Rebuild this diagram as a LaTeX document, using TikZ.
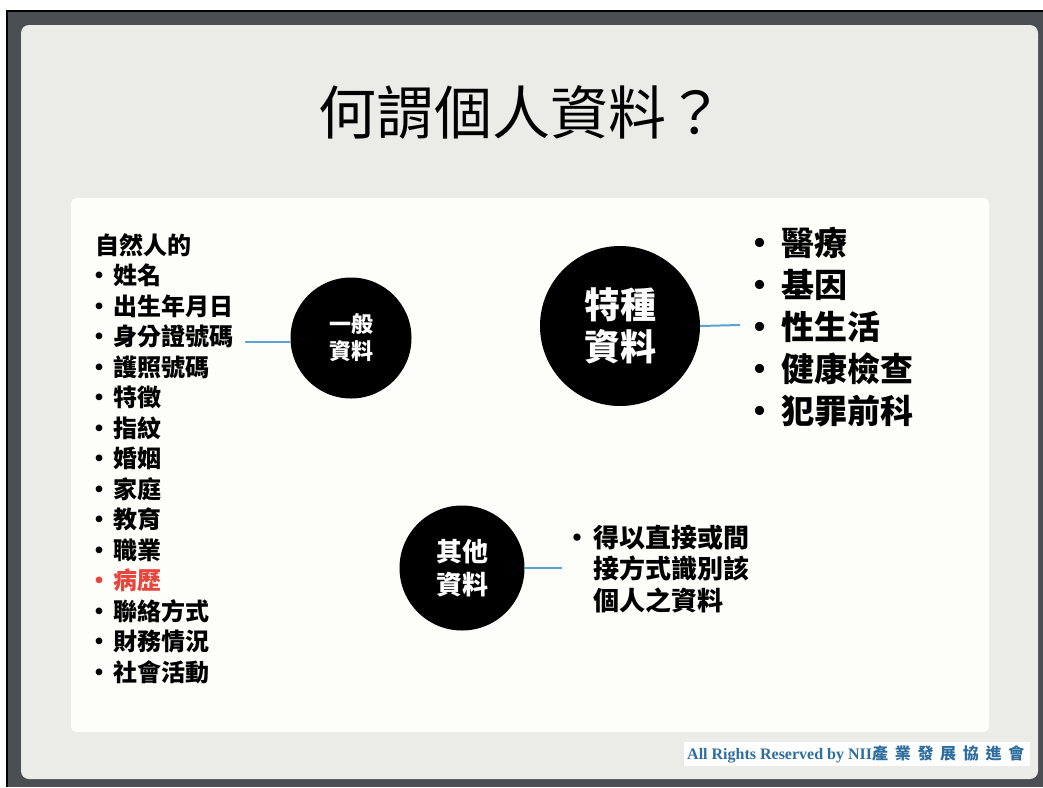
\documentclass[tikz,border=0pt]{standalone}
\usepackage{fontspec}
\setmainfont{Noto Sans CJK TC}
\newfontfamily\footlatin{Liberation Serif}
\newfontfamily\footcjk[LetterSpace=42]{Noto Sans CJK TC}
\usetikzlibrary{positioning}
\definecolor{frame}{HTML}{4B4E52}
\definecolor{slide}{HTML}{EBEBE8}
\definecolor{panel}{HTML}{FDFDF9}
\definecolor{linkblue}{HTML}{5BA4CF}
\definecolor{sick}{HTML}{E8453C}
\definecolor{footblue}{HTML}{2E6E9E}
\newcommand{\setfs}[2]{\fontsize{#1}{#2}\selectfont}
% bullet box: width, left shift of the (full width) bullet glyph
\newcommand{\itembul}[2]{\makebox[#1pt][l]{\hspace*{-#2pt}•}}
\tikzset{disc/.style = {fill, circle, inner sep = 0, text = white, align = center}}
\tikzset{link/.style = {draw = linkblue, line width = 2}}
% base anchor of a multi-line node = baseline of its last line
\tikzset{items/.style = {anchor = base west, align = left, inner sep = 0}}

\begin{document}
\begin{tikzpicture}[x = 1pt, y = -1pt]
    \useasboundingbox (0, 0) rectangle (1043, 787);
    % page, frame and slide
    \fill [white] (0, 0) rectangle (1043, 787);
    \fill [frame] (6, 10) rectangle (1043, 787);
    \draw [black, line width = 2] (7, 787) -- (7, 11) -- (1043, 11);
    \fill [slide, rounded corners = 8] (21, 25) rectangle (1038, 779);
    \fill [panel, rounded corners = 6] (71, 198) rectangle (989, 732);

    \node (title) at (521, 112) {\setfs{58}{58}何謂個人資料？};

    % the three kinds of data
    \node [disc, minimum size = 121, font = \setfs{22}{27}\bfseries] (gen) at (351, 338) {一般\\資料};
    \node [disc, minimum size = 160, font = \setfs{36}{42}\bfseries] (spec) at (620, 326) {特種\\資料};
    \node [disc, minimum size = 125, font = \setfs{26}{33}\bfseries] (other) at (462, 568) {其他\\資料};

    % lists
    \node [items, font = \setfs{24}{30.5}\bfseries] (genlist) at (95, 681)
      {自然人的\\
       \itembul{18}{8}姓名\\
       \itembul{18}{8}出生年月日\\
       \itembul{18}{8}身分證號碼\\
       \itembul{18}{8}護照號碼\\
       \itembul{18}{8}特徵\\
       \itembul{18}{8}指紋\\
       \itembul{18}{8}婚姻\\
       \itembul{18}{8}家庭\\
       \itembul{18}{8}教育\\
       \itembul{18}{8}職業\\
       \textcolor{sick}{\itembul{18}{8}病歷}\\
       \itembul{18}{8}聯絡方式\\
       \itembul{18}{8}財務情況\\
       \itembul{18}{8}社會活動};
    \node [items, font = \setfs{33}{42}\bfseries] (speclist) at (757, 423)
      {\itembul{24}{13.5}醫療\\
       \itembul{24}{13.5}基因\\
       \itembul{24}{13.5}性生活\\
       \itembul{24}{13.5}健康檢查\\
       \itembul{24}{13.5}犯罪前科};
    \node [items, font = \setfs{26}{31.5}\bfseries] (otherlist) at (574, 610)
      {\itembul{19}{10}得以直接或間\\
       \hspace*{19pt}接方式識別該\\
       \hspace*{19pt}個人之資料};

    % connectors
    \coordinate (genend) at (245, 342);
    \coordinate (specend) at (740, 325);
    \coordinate (otherend) at (562, 568);
    \draw [link] (genend) -- (genend -| gen.west);
    \draw [link] (spec.east) -- (specend);
    \draw [link] (other.east) -- (otherend);

    % footer
    \fill [white] (684, 742) rectangle (1030, 766);
    \node [anchor = west, inner sep = 0, text = footblue] (foot) at (687, 754)
      {\footlatin\bfseries\setfs{16}{16}All Rights Reserved by NII\footcjk\setfs{16}{16}產業發展協進會};
  \end{tikzpicture}
\end{document}
